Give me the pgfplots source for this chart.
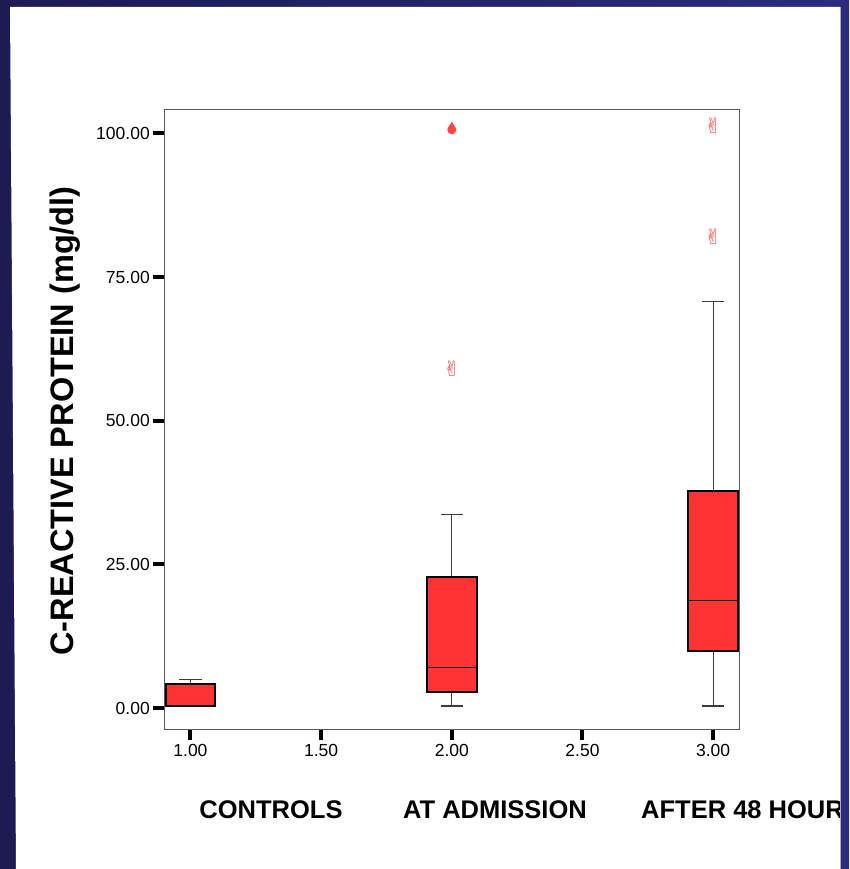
\documentclass[border=0pt]{standalone}
\usepackage{fontspec}
\setmainfont{Liberation Sans}
\newfontfamily\dejavu{DejaVu Sans}
\usepackage{pgfplots}
\pgfplotsset{compat=1.18}
\definecolor{boxred}{RGB}{255,51,51}
\definecolor{outred}{RGB}{255,70,70}
\definecolor{navyL}{RGB}{29,27,82}
\definecolor{navyR}{RGB}{42,44,128}
\definecolor{whisk}{RGB}{60,60,60}
\definecolor{axgray}{RGB}{90,90,90}
\pgfdeclareplotmark{drop}{%
  \pgfpathmoveto{\pgfpoint{0pt}{6.5pt}}%
  \pgfpathcurveto{\pgfpoint{1.5pt}{3.5pt}}{\pgfpoint{4.5pt}{0.5pt}}{\pgfpoint{4.5pt}{-1.5pt}}%
  \pgfpathcurveto{\pgfpoint{4.5pt}{-4.5pt}}{\pgfpoint{2.5pt}{-6pt}}{\pgfpoint{0pt}{-6pt}}%
  \pgfpathcurveto{\pgfpoint{-2.5pt}{-6pt}}{\pgfpoint{-4.5pt}{-4.5pt}}{\pgfpoint{-4.5pt}{-1.5pt}}%
  \pgfpathcurveto{\pgfpoint{-4.5pt}{0.5pt}}{\pgfpoint{-1.5pt}{3.5pt}}{\pgfpoint{0pt}{6.5pt}}%
  \pgfpathclose
  \pgfusepathqfill}
\begin{document}
\begin{tikzpicture}
\useasboundingbox (0pt,0pt) rectangle (849pt,869pt);
\shade[left color=navyL, right color=navyR] (0pt,0pt) rectangle (849pt,869pt);
\fill[white] (10pt,862pt) -- (840pt,862pt) -- (840pt,0pt) -- (16pt,0pt) -- cycle;
\draw[line width=1pt, color={rgb,255:red,170;green,170;blue,200}] (840pt,0pt) -- (840pt,862pt);
\begin{axis}[
  at={(164.3pt,139.7pt)}, anchor=south west,
  scale only axis, width=575pt, height=620pt,
  xmin=0.9, xmax=3.1, ymin=-3.7, ymax=104.2,
  xtick={1,1.5,2,2.5,3}, ytick={0,25,50,75,100},
  tick pos=left, tick align=outside,
  major tick length=11pt,
  major tick style={black, line width=4pt},
  axis line style={axgray, line width=1.2pt},
  xticklabels={1.00,1.50,2.00,2.50,3.00},
  yticklabels={0.00,25.00,50.00,75.00,100.00},
  ticklabel style={font=\fontsize{17.5}{20}\selectfont},
  clip=false,
]
% Group 1 (controls)
\addplot[whisk, line width=1.2pt] coordinates {(1,4.2) (1,4.9)};
\addplot[whisk, line width=1.2pt] coordinates {(0.9575,4.9) (1.0425,4.9)};
\addplot[draw=black, line width=2pt, fill=boxred] coordinates {(0.905,0.3) (1.095,0.3) (1.095,4.2) (0.905,4.2)} -- cycle;
% Group 2 (at admission)
\addplot[whisk, line width=1.2pt] coordinates {(2,0.35) (2,2.8)};
\addplot[whisk, line width=1.2pt] coordinates {(2,22.8) (2,33.7)};
\addplot[whisk, line width=1.2pt] coordinates {(1.9575,0.35) (2.0425,0.35)};
\addplot[whisk, line width=1.2pt] coordinates {(1.9575,33.7) (2.0425,33.7)};
\addplot[draw=black, line width=2pt, fill=boxred] coordinates {(1.905,2.8) (2.095,2.8) (2.095,22.8) (1.905,22.8)} -- cycle;
\addplot[black, line width=1pt] coordinates {(1.905,7.1) (2.095,7.1)};
% Group 3 (after 48 hours)
\addplot[whisk, line width=1.2pt] coordinates {(3,0.35) (3,10.0)};
\addplot[whisk, line width=1.2pt] coordinates {(3,37.8) (3,70.8)};
\addplot[whisk, line width=1.2pt] coordinates {(2.9575,0.35) (3.0425,0.35)};
\addplot[whisk, line width=1.2pt] coordinates {(2.9575,70.8) (3.0425,70.8)};
\addplot[draw=black, line width=2pt, fill=boxred] coordinates {(2.905,10.0) (3.095,10.0) (3.095,37.8) (2.905,37.8)} -- cycle;
\addplot[black, line width=1pt] coordinates {(2.905,18.7) (3.095,18.7)};
% outliers
\addplot[only marks, mark=drop, outred, mark options={fill=outred}] coordinates {(2,100.9)};
\addplot[only marks, mark=text, text mark={\dejavu\fontsize{21}{21}\selectfont\textcolor{outred}{✌}}]
  coordinates {(2,59.1) (3,101.3) (3,82.1)};
\end{axis}
\node[rotate=90, font=\bfseries\fontsize{32.5}{32.5}\selectfont] at (65pt,448pt) {C-REACTIVE PROTEIN (mg/dl)};
\node[anchor=base, font=\bfseries\fontsize{25.5}{25.5}\selectfont, inner sep=0pt] at (271pt,50.7pt) {CONTROLS};
\node[anchor=base, font=\bfseries\fontsize{25.5}{25.5}\selectfont, inner sep=0pt] at (495pt,50.7pt) {AT ADMISSION};
\begin{scope}
\clip (0pt,0pt) rectangle (839.5pt,869pt);
\node[anchor=base west, font=\bfseries\fontsize{25.5}{25.5}\selectfont, inner sep=0pt] at (641pt,50.7pt) {AFTER 48 HOURS};
\end{scope}
\end{tikzpicture}
\end{document}
